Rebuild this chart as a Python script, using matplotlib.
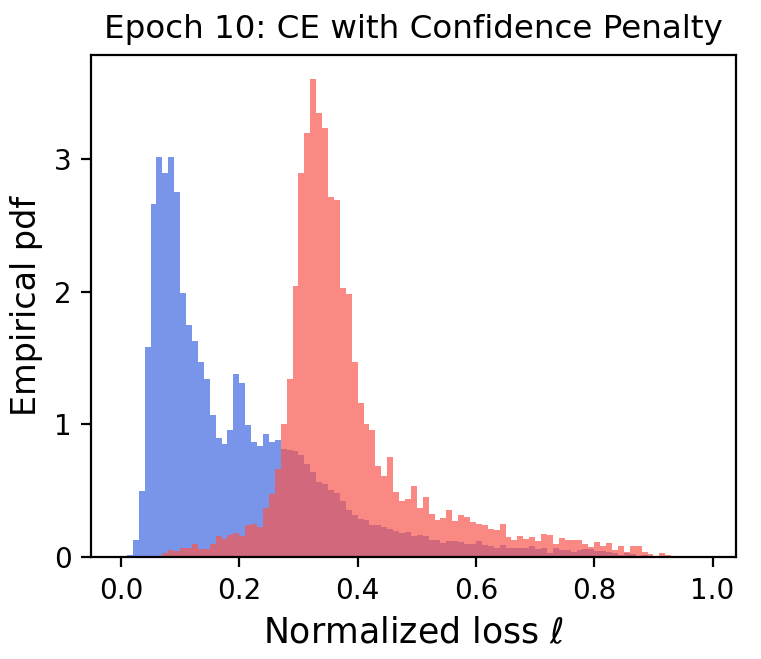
import numpy as np
import matplotlib
matplotlib.use('Agg')
import matplotlib.pyplot as plt

# Bin edges: 100 bins of width 0.01 on [0, 1]
bin_edges = np.linspace(0, 1, 101)

# Empirical pdf per bin
clean_pdf = [
    0, 0.018, 0.127, 0.50, 1.58, 2.66, 3.01, 2.89, 3.01, 2.75,
    1.99, 1.75, 1.63, 1.47, 1.34, 1.07, 0.90, 0.855, 0.96, 1.38,
    1.31, 0.995, 0.87, 0.84, 0.93, 0.87, 0.88, 0.817, 0.805, 0.797,
    0.77, 0.70, 0.64, 0.57, 0.55, 0.51, 0.487, 0.424, 0.355, 0.32,
    0.29, 0.284, 0.24, 0.24, 0.226, 0.21, 0.20, 0.18, 0.19, 0.157,
    0.165, 0.157, 0.127, 0.13, 0.107, 0.12, 0.12, 0.113, 0.10, 0.098,
    0.123, 0.09, 0.085, 0.073, 0.095, 0.07, 0.068, 0.073, 0.07, 0.088,
    0.063, 0.068, 0.035, 0.07, 0.053, 0.055, 0.04, 0.053, 0.06, 0.065,
    0.045, 0.05, 0.04, 0.033, 0.015, 0.033, 0.025, 0.013, 0.02, 0.01,
    0.005, 0.008, 0.01, 0.008, 0.003, 0.002, 0.002, 0.002, 0.002, 0,
]
noisy_pdf = [
    0, 0, 0, 0, 0, 0.01, 0.01, 0.035, 0.056, 0.05,
    0.07, 0.07, 0.10, 0.06, 0.06, 0.10, 0.16, 0.137, 0.165, 0.18,
    0.157, 0.24, 0.254, 0.23, 0.37, 0.475, 0.665, 1.0, 1.345, 2.04,
    2.89, 3.19, 3.60, 3.34, 3.23, 2.71, 2.69, 2.03, 1.98, 1.47,
    1.165, 1.00, 0.957, 0.69, 0.61, 0.754, 0.49, 0.424, 0.437, 0.533,
    0.373, 0.457, 0.327, 0.284, 0.294, 0.353, 0.274, 0.315, 0.305, 0.266,
    0.25, 0.24, 0.215, 0.205, 0.248, 0.15, 0.13, 0.158, 0.135, 0.15,
    0.125, 0.175, 0.17, 0.10, 0.145, 0.128, 0.128, 0.128, 0.10, 0.078,
    0.113, 0.088, 0.11, 0.055, 0.083, 0.043, 0.085, 0.085, 0.038, 0.025,
    0.008, 0.033, 0.02, 0.008, 0.003, 0.002, 0.003, 0.003, 0.003, 0,
]

fig = plt.figure(figsize=(3.805, 3.295), dpi=200)
ax = fig.add_axes([0.1201, 0.1543, 0.8474, 0.7622])

centers = bin_edges[:-1] + 0.005
ax.hist(centers, bins=bin_edges, weights=clean_pdf, color='royalblue', alpha=0.7)
ax.hist(centers, bins=bin_edges, weights=noisy_pdf, color='#f8564e', alpha=0.7)

ax.set_xlim(-0.05, 1.04)
ax.set_ylim(0, max(noisy_pdf) * 1.05)
ax.set_xticks([0.0, 0.2, 0.4, 0.6, 0.8, 1.0])
ax.set_yticks([0, 1, 2, 3])
ax.tick_params(labelsize=10)

ax.set_title('Epoch 10: CE with Confidence Penalty', fontsize=11.7)
ax.set_xlabel(r'Normalized loss $\ell$', fontsize=12.5)
ax.set_ylabel('Empirical pdf', fontsize=12)

fig.savefig('out.png', dpi=200)
